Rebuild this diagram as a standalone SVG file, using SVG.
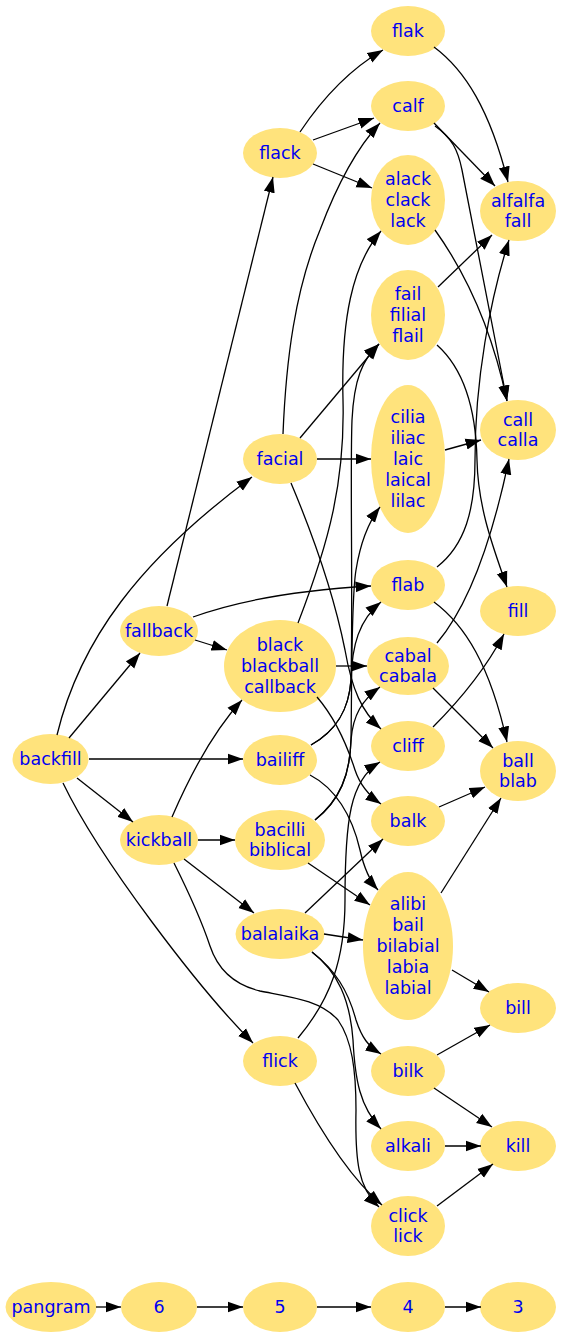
<svg xmlns="http://www.w3.org/2000/svg" width="563" height="1338" viewBox="0 0 563 1338">
<style>
.n ellipse{fill:#ffe37c;stroke:none}
.n text{font-family:"DejaVu Sans","Liberation Sans",sans-serif;font-size:17.5px;fill:#0000f0;text-anchor:middle}
#edges path{fill:none;stroke:#000;stroke-width:1.3;marker-end:url(#ah)}
</style>
<defs>
<marker id="ah" viewBox="0 0 16 12" refX="15.5" refY="6" markerWidth="16" markerHeight="12" markerUnits="userSpaceOnUse" orient="auto">
<path d="M0,0.5 L15.5,6 L0,11.5 z" fill="#000"/>
</marker>
</defs>
<rect width="563" height="1338" fill="#fff"/>
<g id="nodes">
<g class="n" id="backfill"><ellipse cx="50.5" cy="759" rx="38" ry="25"/><text x="50.5" y="765">backfill</text></g>
<g class="n" id="fallback"><ellipse cx="159" cy="631" rx="39" ry="25"/><text x="159" y="637">fallback</text></g>
<g class="n" id="kickball"><ellipse cx="159" cy="840" rx="39" ry="25"/><text x="159" y="846">kickball</text></g>
<g class="n" id="flack"><ellipse cx="280" cy="153" rx="37" ry="25"/><text x="280" y="159">flack</text></g>
<g class="n" id="facial"><ellipse cx="280" cy="459" rx="37" ry="25"/><text x="280" y="465">facial</text></g>
<g class="n" id="black"><ellipse cx="280" cy="666" rx="56" ry="46"/><text x="280" y="651.2">black</text><text x="280" y="672">blackball</text><text x="280" y="692.8">callback</text></g>
<g class="n" id="bailiff"><ellipse cx="280" cy="760" rx="37" ry="25"/><text x="280" y="766">bailiff</text></g>
<g class="n" id="bacilli"><ellipse cx="280" cy="840" rx="45" ry="30"/><text x="280" y="835.6">bacilli</text><text x="280" y="856.4">biblical</text></g>
<g class="n" id="balalaika"><ellipse cx="280" cy="934" rx="44.5" ry="25"/><text x="280" y="940">balalaika</text></g>
<g class="n" id="flick"><ellipse cx="280" cy="1061" rx="37" ry="25"/><text x="280" y="1067">flick</text></g>
<g class="n" id="flak"><ellipse cx="408" cy="31" rx="37" ry="25"/><text x="408" y="37">flak</text></g>
<g class="n" id="calf"><ellipse cx="408" cy="106" rx="37" ry="25"/><text x="408" y="112">calf</text></g>
<g class="n" id="alack"><ellipse cx="408" cy="200" rx="37" ry="45"/><text x="408" y="185.2">alack</text><text x="408" y="206">clack</text><text x="408" y="226.8">lack</text></g>
<g class="n" id="fail"><ellipse cx="408" cy="315" rx="37" ry="45"/><text x="408" y="300.2">fail</text><text x="408" y="321">filial</text><text x="408" y="341.8">flail</text></g>
<g class="n" id="cilia"><ellipse cx="408" cy="459" rx="37" ry="74"/><text x="408" y="423.4">cilia</text><text x="408" y="444.2">iliac</text><text x="408" y="465">laic</text><text x="408" y="485.8">laical</text><text x="408" y="506.6">lilac</text></g>
<g class="n" id="flab"><ellipse cx="408" cy="585" rx="37" ry="25"/><text x="408" y="591">flab</text></g>
<g class="n" id="cabal"><ellipse cx="408" cy="666" rx="41" ry="29"/><text x="408" y="661.6">cabal</text><text x="408" y="682.4">cabala</text></g>
<g class="n" id="cliff"><ellipse cx="408" cy="746" rx="37" ry="25"/><text x="408" y="752">cliff</text></g>
<g class="n" id="balk"><ellipse cx="408" cy="821" rx="37" ry="25"/><text x="408" y="827">balk</text></g>
<g class="n" id="alibi"><ellipse cx="408" cy="946" rx="45" ry="74"/><text x="408" y="910.4">alibi</text><text x="408" y="931.2">bail</text><text x="408" y="952">bilabial</text><text x="408" y="972.8">labia</text><text x="408" y="993.6">labial</text></g>
<g class="n" id="bilk"><ellipse cx="408" cy="1071" rx="37" ry="25"/><text x="408" y="1077">bilk</text></g>
<g class="n" id="alkali"><ellipse cx="408" cy="1146" rx="37" ry="25"/><text x="408" y="1152">alkali</text></g>
<g class="n" id="click"><ellipse cx="408" cy="1226" rx="37" ry="30"/><text x="408" y="1221.6">click</text><text x="408" y="1242.4">lick</text></g>
<g class="n" id="alfalfa"><ellipse cx="518" cy="211" rx="38" ry="30"/><text x="518" y="206.6">alfalfa</text><text x="518" y="227.4">fall</text></g>
<g class="n" id="call"><ellipse cx="518" cy="430" rx="38" ry="30"/><text x="518" y="425.6">call</text><text x="518" y="446.4">calla</text></g>
<g class="n" id="fill"><ellipse cx="518" cy="611" rx="38" ry="25"/><text x="518" y="617">fill</text></g>
<g class="n" id="ball"><ellipse cx="518" cy="771" rx="38" ry="30"/><text x="518" y="766.6">ball</text><text x="518" y="787.4">blab</text></g>
<g class="n" id="bill"><ellipse cx="518" cy="1008" rx="38" ry="25"/><text x="518" y="1014">bill</text></g>
<g class="n" id="kill"><ellipse cx="518" cy="1146" rx="38" ry="25"/><text x="518" y="1152">kill</text></g>
<g class="n" id="pangram"><ellipse cx="51" cy="1307" rx="45.5" ry="25"/><text x="51" y="1313">pangram</text></g>
<g class="n" id="r6"><ellipse cx="159" cy="1307" rx="38" ry="25"/><text x="159" y="1313">6</text></g>
<g class="n" id="r5"><ellipse cx="280" cy="1307" rx="37" ry="25"/><text x="280" y="1313">5</text></g>
<g class="n" id="r4"><ellipse cx="408" cy="1307" rx="37" ry="25"/><text x="408" y="1313">4</text></g>
<g class="n" id="r3"><ellipse cx="518" cy="1307" rx="38" ry="25"/><text x="518" y="1313">3</text></g>
</g>
<g id="edges">
<path d="M69,738 L140,653"/>
<path d="M57,735 C80,640 140,560 252,477"/>
<path d="M89,759 L243,759"/>
<path d="M77,778 L133,822"/>
<path d="M63,783 C100,860 200,990 253,1043"/>
<path d="M167,606 L273,177"/>
<path d="M193,617 C240,600 300,590 371,586"/>
<path d="M195,640 L227,650"/>
<path d="M172,817 C188,780 210,735 242,700"/>
<path d="M198,840 L235,840"/>
<path d="M184,859 L254,913"/>
<path d="M174,863 C190,895 203,925 210,946 C218,970 235,985 260,991 C290,997 320,1000 338,1020 C352,1040 356,1070 356,1110 C355,1160 358,1188 379,1207"/>
<path d="M283,434 C286,360 295,290 320,230 C335,190 355,150 380,123"/>
<path d="M300,438 L379,344"/>
<path d="M317,459 L371,459"/>
<path d="M291,483 C315,540 335,600 345,650 C352,690 362,712 381,729"/>
<path d="M300,132 C318,105 345,72 383,50"/>
<path d="M313,140 L374,118"/>
<path d="M313,164 L372,188"/>
<path d="M298,623 C330,540 345,480 343,400 C341,320 352,265 381,231"/>
<path d="M336,666 L367,666"/>
<path d="M317,697 C335,718 347,745 355,770 C360,785 368,795 381,804"/>
<path d="M311,745 C338,730 349,708 351,680 C353,600 350,470 352,420 C354,380 362,360 379,344"/>
<path d="M311,745 C338,730 349,708 351,680 C352,645 359,620 381,602"/>
<path d="M310,775 C335,788 352,815 360,850 C364,868 369,880 378,890"/>
<path d="M315,820 C340,800 350,775 351,740 C352,680 351,600 356,570 C360,545 367,524 380,507"/>
<path d="M315,820 C340,800 350,775 351,740 C353,715 362,700 380,687"/>
<path d="M308,863 L370,905"/>
<path d="M305,913 L383,839"/>
<path d="M324,934 L363,940"/>
<path d="M312,952 C335,970 348,990 356,1020 C362,1038 368,1046 381,1054"/>
<path d="M312,952 C338,972 350,1000 353,1040 C355,1080 360,1107 381,1129"/>
<path d="M298,1038 C330,1000 345,960 345,900 C345,820 350,780 380,762"/>
<path d="M295,1083 C320,1130 350,1178 382,1205"/>
<path d="M434,47 C465,70 490,110 508,182"/>
<path d="M434,123 L495,186"/>
<path d="M435,126 C452,138 458,150 462,170 L507,401"/>
<path d="M435,230 C460,265 490,320 507,401"/>
<path d="M438,287 L492,235"/>
<path d="M437,345 C465,370 476,410 477,460 C478,510 495,552 507,587"/>
<path d="M445,450 L481,440"/>
<path d="M437,567 C465,545 475,510 475,460 C475,380 490,300 509,240"/>
<path d="M437,643 C465,610 490,550 509,459"/>
<path d="M434,602 C465,625 490,665 507,742"/>
<path d="M433,688 L493,748"/>
<path d="M433,727 C460,700 485,670 504,634"/>
<path d="M439,807 L485,787"/>
<path d="M441,893 L501,798"/>
<path d="M452,970 L489,992"/>
<path d="M437,1055 L490,1025"/>
<path d="M434,1088 L492,1127"/>
<path d="M445,1146 L481,1146"/>
<path d="M437,1206 L493,1164"/>
<path d="M96,1307 L121,1307"/>
<path d="M197,1307 L243,1307"/>
<path d="M317,1307 L371,1307"/>
<path d="M445,1307 L481,1307"/>
</g>
</svg>
